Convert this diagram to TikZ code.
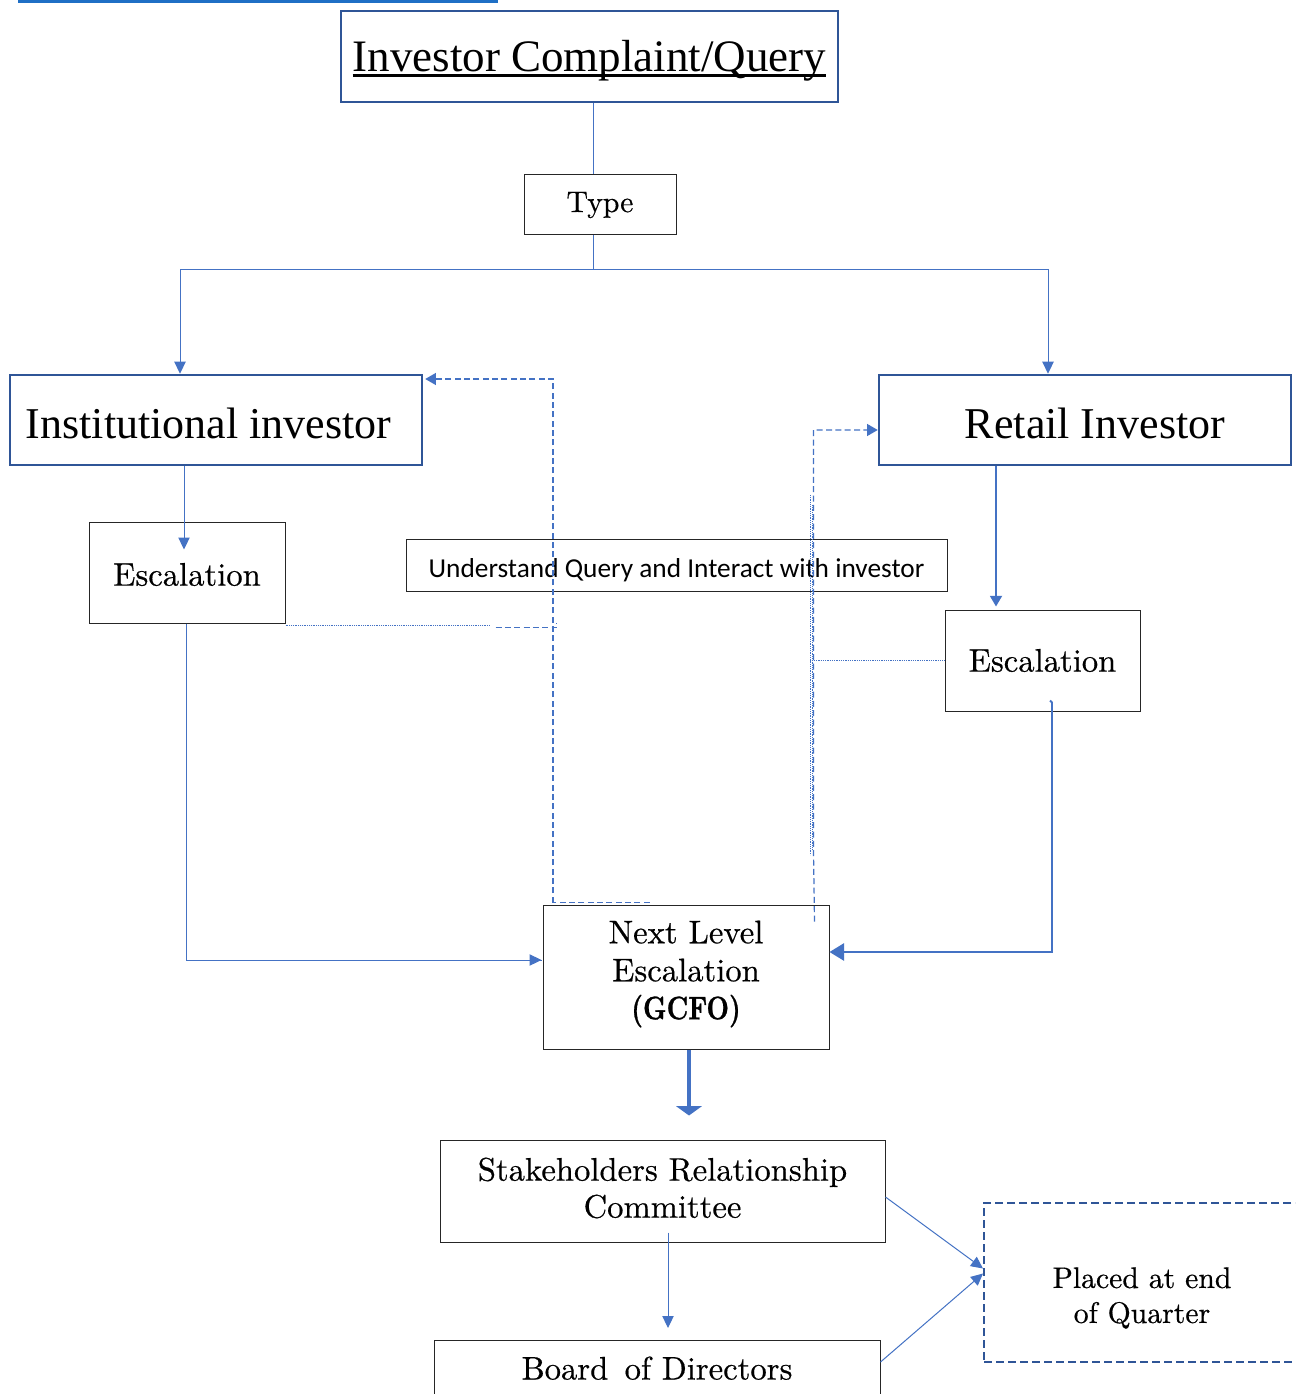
\documentclass[tikz,border=0pt]{standalone}
\usepackage{fontspec}
\newfontfamily\garafont{Liberation Serif}
\newfontfamily\calfont{Carlito}
\newfontfamily\centfont{lmroman10-regular.otf}[FakeBold=0.5]
\newfontfamily\centbold{lmroman10-bold.otf}[FakeBold=1]
\usetikzlibrary{arrows.meta,calc}
\definecolor{conn}{HTML}{4472C4}
\definecolor{boxblue}{HTML}{2F5597}
\definecolor{linkblue}{HTML}{1F6FC5}
\newcommand\myul[1]{\setbox0=\hbox{#1}\leavevmode\rlap{\rule[-4.5pt]{\wd0}{2.2pt}}\box0}
\newcommand\shiftt[2]{\raisebox{#1}[\height][\depth]{#2}}
\tikzset{
  bluebox/.style={draw=boxblue, line width=1.9pt, inner sep=0pt},
  plainbox/.style={draw=black!85, line width=0.75pt, inner sep=0pt, align=center},
  gara/.style={font=\garafont\fontsize{33}{40}\selectfont},
  cent/.style={font=\centfont\fontsize{24.5}{28.5}\selectfont},
  centsmall/.style={font=\centfont\fontsize{22.3}{26.25}\selectfont},
  conn/.style={draw=conn, line width=0.75pt},
  arr/.style={conn, -{Triangle[length=9pt,width=8.5pt]}},
  arrmid/.style={draw=conn, line width=1.3pt, -{Triangle[length=8pt,width=9pt]}},
  arrbig/.style={draw=conn, line width=1.6pt, -{Triangle[length=11pt,width=13pt]}},
  arrhuge/.style={draw=conn, line width=2.4pt, -{Triangle[length=7pt,width=19pt]}},
  dashconn/.style={draw=conn, line width=0.9pt, dash pattern=on 4.5pt off 2.5pt},
  dashtip/.style={dashconn, -{Triangle[length=8pt,width=9pt,fill=conn]}},
  dotconn/.style={draw=conn, line width=0.7pt, dash pattern=on 0.75pt off 0.6pt},
}
\begin{document}
\begin{tikzpicture}[x=0.75pt,y=-0.75pt]
\useasboundingbox (0,0) rectangle (1295,1394);
\clip (0,0) rectangle (1295,1394);
\fill[white] (0,0) rectangle (1295,1394);
% cut-off heading underline
\fill[linkblue] (18,0) rectangle (498,3);

% nodes
\node[bluebox, minimum width=372.75pt, minimum height=68.25pt,
      font=\garafont\fontsize{33.75}{40}\selectfont] (title) at (589.5,56.5)
      {\shiftt{-3pt}{\myul{Investor Complaint/Query}}};
\node[plainbox, centsmall, minimum width=114pt, minimum height=45pt] (type) at (600,205) {Type};
\node[bluebox, gara, minimum width=309pt, minimum height=67.5pt] (inst) at (216,420) {\shiftt{-2.25pt}{Institutional investor}\kern11pt};
\node[bluebox, gara, minimum width=309pt, minimum height=67.5pt] (retail) at (1085,420) {\hspace{15pt}\shiftt{-2.25pt}{Retail Investor}};
\node[plainbox, cent, minimum width=147pt, minimum height=75.75pt] (escL) at (187,572.5) {\shiftt{-1.5pt}{Escalation}};
\node[plainbox, font=\calfont\fontsize{20.5}{24}\selectfont, minimum width=405.75pt, minimum height=39pt] (understand) at (676.5,565) {\shiftt{-3.75pt}{Understand Query and Interact with investor}};
\node[plainbox, cent, minimum width=146.25pt, minimum height=75.75pt] (escR) at (1042.5,660.5) {Escalation};
\node[plainbox, cent, minimum width=214.5pt, minimum height=108pt] (next) at (686,977)
      {\shiftt{2.25pt}{Next Level}\\\shiftt{2.25pt}{Escalation}\\\shiftt{2.25pt}{\scalebox{0.8}[1]{\centbold (GCFO)}}};
\node[plainbox, font=\centfont\fontsize{24.5}{27.75}\selectfont, minimum width=333.75pt, minimum height=76.5pt] (stake) at (662.5,1191)
      {\shiftt{2.25pt}{Stakeholders Relationship}\\\shiftt{2.25pt}{Committee}};
\node[plainbox, cent, anchor=north, minimum width=334.5pt, minimum height=43pt] (board) at (657,1340) {\shiftt{0.75pt}{Board\,\ of Directors}};
\node[draw=boxblue, line width=1.5pt, dash pattern=on 6pt off 3pt, minimum width=244.5pt, minimum height=119.25pt] (placed) at (1147,1282.5) {};
\node[centsmall, align=center, inner sep=0pt] (placedtext) at (1142,1298) {Placed at end\\of Quarter};

% helper columns
\coordinate (c593) at (593,0);
\coordinate (c180) at (180,0);
\coordinate (c1048) at (1048,0);
\coordinate (c184) at (184,0);
\coordinate (c186) at (186,0);
\coordinate (c996) at (996,0);
\coordinate (c1052) at (1052,0);
\coordinate (c689) at (689,0);
\coordinate (c668) at (668,0);
\coordinate (c553) at (553,0);
\coordinate (c813) at (813,0);

% connectors
\draw[conn] (title.south -| c593) -- (type.north -| c593);
\draw[arr] (type.south -| c593) -- ++(0,34) -| (inst.north -| c180);
\draw[arr] (type.south -| c593) -- ++(0,34) -| (retail.north -| c1048);
\draw[arr] (inst.south -| c184) -- ($(escL.north -| c184)+(0,28)$);
\draw[arrmid] (retail.south -| c996) -- ($(escR.north -| c996)+(0,-3)$);
\draw[conn] (escL.south -| c186) |- ($(next.west)+(-1,-17)$);
\draw[arr] ($(next.west)+(-20,-17)$) -- ($(next.west)+(-1,-17)$);
\draw[conn, line width=1.4pt] ($(escR.south -| c1052)+(-2,-11)$) -- ($(escR.south -| c1052)+(0,-9)$) |- ($(next.east)+(12,-25)$);
\draw[arrbig] ($(next.east)+(14,-25)$) -- ($(next.east)+(0,-25)$);
\draw[arrhuge] (next.south -| c689) -- ($(stake.north -| c689)+(0,-24)$);
\draw[arr] ($(stake.south -| c668)+(0,-10)$) -- ($(board.north -| c668)+(0,-12)$);
\draw[arr] ($(stake.east)+(0,6)$) -- ($(placed.west)+(0,-14)$);
\draw[arr] ($(board.north east)+(0,22)$) -- ($(placed.west)+(0,-9)$);

% dashed feedback connectors
\draw[dashconn] ($(next.north west)+(107,-2)$) -- ($(next.north -| c553)+(0,-2)$);
\draw[dashtip] ($(next.north -| c553)+(0,-2)$) |- ($(inst.east)+(2,-41)$);
\draw[dotconn] ($(escL.south east)+(0,2)$) -- ++(205,0);
\draw[dashconn] ($(escL.south east)+(210,4)$) -- ++(61,0) -- ++(0,-5);
\draw[dashtip] ($(next.north east)+(-15,17)$) -- ($(next.north east)+(-16,-53)$) |- ($(retail.west)+(0,10)$);
\draw[dotconn] (escR.west) -- ($(escR.west -| c813)+(-3,0)$);
\draw[dotconn] (810,495) -- (810,855);
\draw[dotconn] (812,505) -- (812,850);
\end{tikzpicture}
\end{document}
